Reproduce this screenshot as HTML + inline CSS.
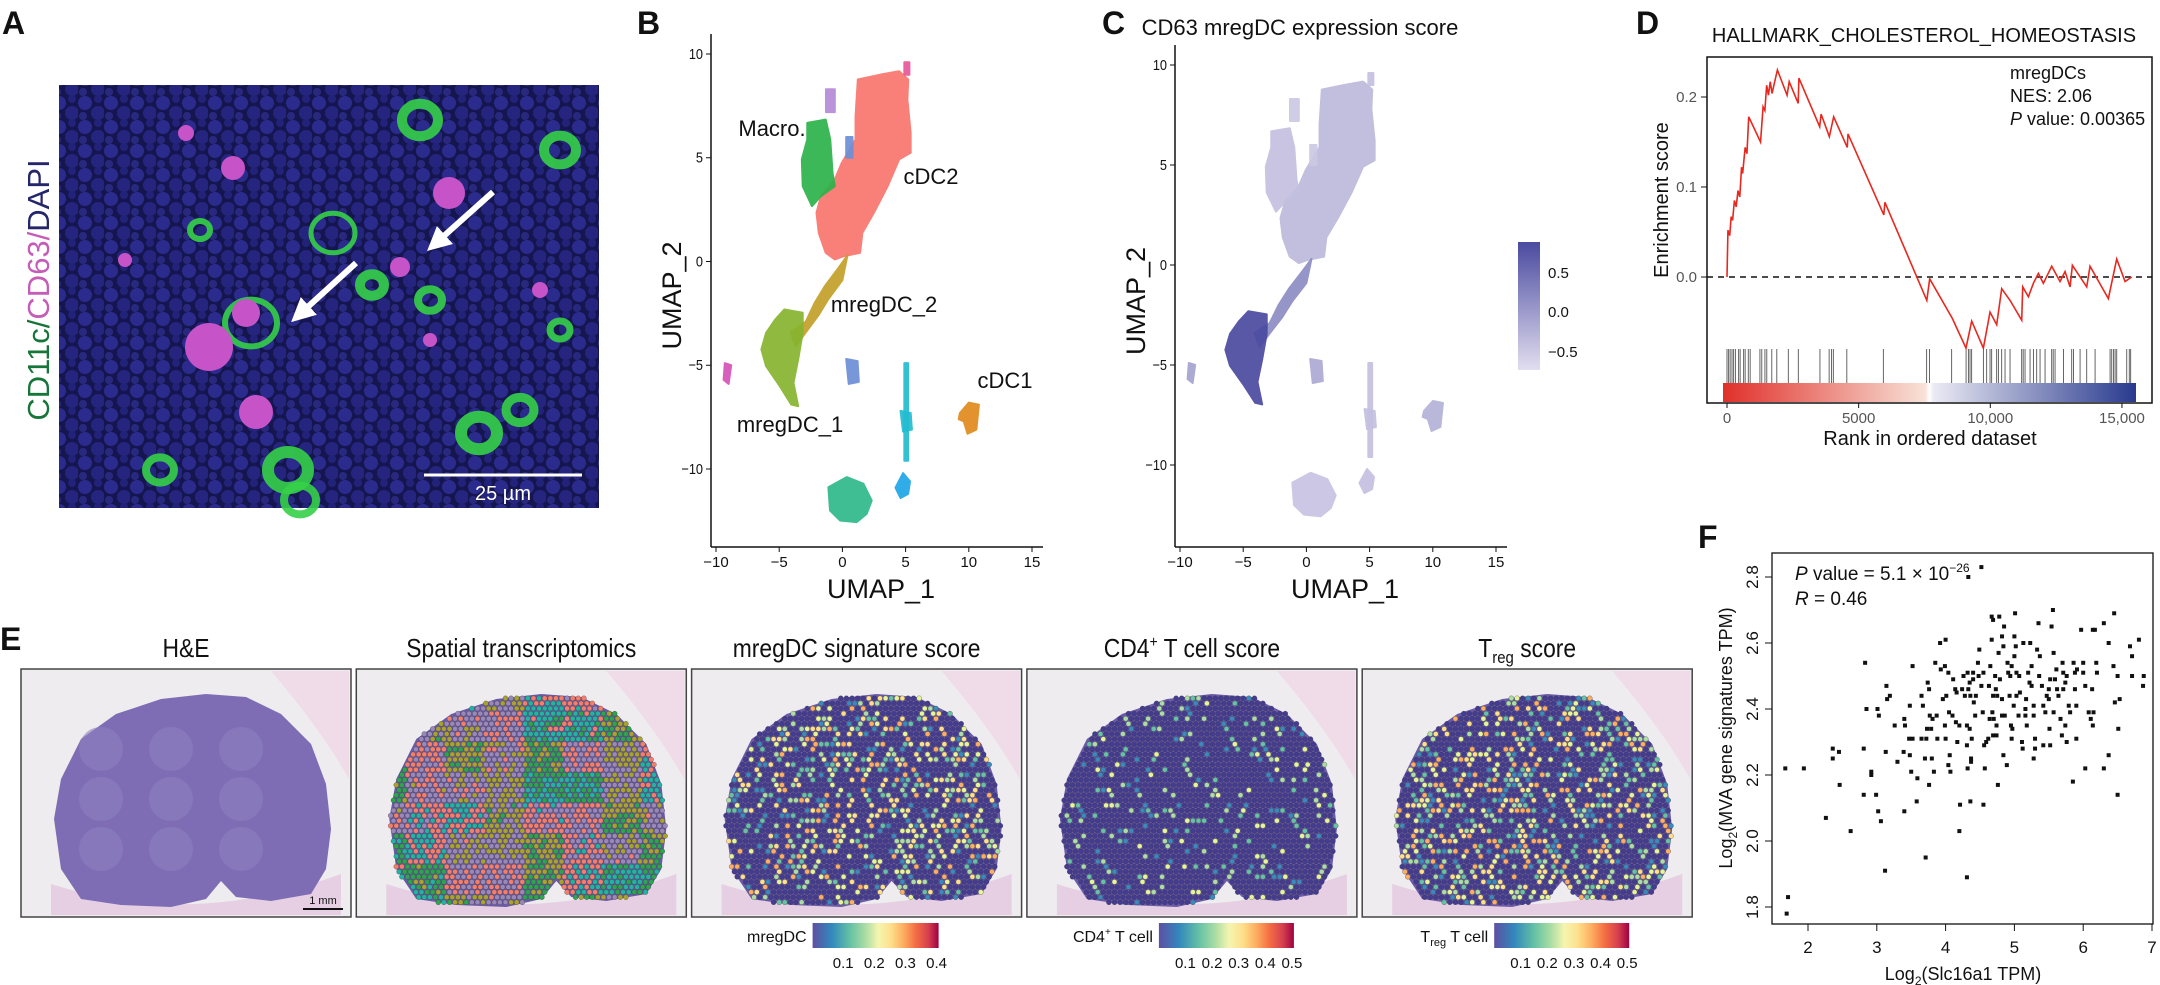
<!DOCTYPE html>
<html><head><meta charset="utf-8"><style>
html,body{margin:0;padding:0;background:#fff}
svg{display:block;font-family:"Liberation Sans",Arial,sans-serif}
</style></head><body>
<svg id="fig" width="2160" height="985" viewBox="0 0 2160 985" xmlns="http://www.w3.org/2000/svg">
<defs>
<pattern id="nuclei" width="26" height="24" patternUnits="userSpaceOnUse">
<rect width="26" height="24" fill="#15154f"/>
<circle cx="7" cy="7" r="7" fill="#2b2b8e"/><circle cx="20" cy="17" r="7" fill="#25257f"/><circle cx="20" cy="3" r="4" fill="#22227a"/><circle cx="5" cy="20" r="4" fill="#28287f"/>
</pattern>
<linearGradient id="gseaBar" x1="0" x2="1" y1="0" y2="0">
<stop offset="0" stop-color="#e0302a"/><stop offset="0.49" stop-color="#f8e2d8"/><stop offset="0.5" stop-color="#ffffff"/><stop offset="0.51" stop-color="#ebeaf4"/><stop offset="1" stop-color="#283a8e"/></linearGradient>
<linearGradient id="cScore" x1="0" x2="0" y1="1" y2="0"><stop offset="0" stop-color="#e2def0"/><stop offset="1" stop-color="#4a4aa0"/></linearGradient>
<linearGradient id="spectral" x1="0" x2="1" y1="0" y2="0">
<stop offset="0" stop-color="#5e4fa2"/><stop offset="0.15" stop-color="#3288bd"/><stop offset="0.3" stop-color="#66c2a5"/><stop offset="0.42" stop-color="#abdda4"/><stop offset="0.52" stop-color="#f5f5b0"/><stop offset="0.62" stop-color="#fee08b"/><stop offset="0.72" stop-color="#fdae61"/><stop offset="0.82" stop-color="#f46d43"/><stop offset="0.92" stop-color="#d53e4f"/><stop offset="1" stop-color="#9e0142"/></linearGradient>
<marker id="arrowHead" markerWidth="4" markerHeight="4" refX="2" refY="2" orient="auto"><path d="M0,0 L4,2 L0,4 z" fill="#fff"/></marker>
</defs>
</svg>
<script>
// ---------------- DATA ----------------
// Panel D : running enrichment score
const esRank=[0,36,104,158,213,281,349,417,485,553,594,689,757,825,1274,1370,1438,1506,1574,1642,1710,1914,2281,2363,2703,2731,3520,3574,3887,4051,4568,4595,5956,5997,7589,7698,8557,9077,9293,9736,9990,10243,10433,10750,11193,11231,11446,11636,11826,12016,12332,12649,12839,13029,13117,13662,13788,14484,14801,15118,15371];
const esValue=[0,0.052,0.046,0.067,0.063,0.085,0.078,0.096,0.089,0.122,0.115,0.144,0.137,0.178,0.150,0.189,0.185,0.213,0.202,0.217,0.204,0.230,0.202,0.217,0.193,0.221,0.167,0.181,0.156,0.178,0.144,0.159,0.069,0.083,-0.026,-0.002,-0.046,-0.079,-0.049,-0.079,-0.039,-0.053,-0.013,-0.026,-0.048,-0.011,-0.022,-0.007,0.004,-0.007,0.012,-0.005,0.006,-0.011,0.013,-0.011,0.012,-0.024,0.020,-0.005,0.000];
const hitRanks=[0,60,120,190,250,320,440,500,630,690,810,880,1250,1320,1440,1510,1700,1890,2330,2710,3530,3880,3970,4040,4550,5940,7580,7690,8530,9080,9170,9230,9290,9740,9860,9990,10050,10240,10310,10430,10560,10750,11190,11250,11320,11510,11640,11760,11890,12080,12330,12390,12460,12780,13090,13160,13410,13660,13980,14550,14610,14680,14740,14800,15180,15280,15330];
const esTicks=[0,0.1,0.2];
const rankTicks=[0,5000,10000,15000];
const rankTickLabels=["0","5000","10,000","15,000"];
// Panel F : scatter
const fX=[1.67,1.94,2.36,2.45,2.36,2.46,2.26,2.62,1.71,1.69,2.83,2.85,2.81,2.81,2.92,2.92,2.99,3.02,3.06,3.01,3.03,3.14,3.15,3.19,3.13,3.26,3.30,3.40,3.41,3.40,3.12,3.48,3.39,3.47,3.52,3.48,3.50,3.59,3.58,3.52,3.65,3.67,3.65,3.72,3.76,3.70,3.71,3.74,3.76,3.77,3.73,3.81,3.79,3.80,3.83,3.85,3.87,3.88,3.92,3.93,3.96,4.00,4.01,3.99,4.04,4.05,3.99,4.00,4.04,4.07,4.06,4.11,4.14,4.16,4.10,4.15,4.17,4.20,4.21,4.20,4.24,4.26,4.28,4.32,4.33,4.31,4.31,4.35,4.36,4.35,4.38,4.37,4.37,4.32,4.36,4.31,4.40,4.41,4.43,4.40,4.44,4.47,4.48,4.49,4.52,4.55,4.54,4.56,4.57,4.59,4.55,4.62,4.64,4.63,4.65,4.67,4.67,4.69,4.72,4.69,4.73,4.75,4.70,4.74,4.68,4.69,4.76,4.74,4.77,4.78,4.79,4.82,4.84,4.85,4.82,4.82,4.86,4.84,4.89,4.90,4.91,4.93,4.96,4.94,4.95,4.97,4.96,5.01,5.00,5.02,4.99,5.00,5.03,5.03,5.06,5.08,5.07,5.11,5.12,5.16,5.16,5.17,5.18,5.13,5.20,5.22,5.23,5.25,5.25,5.28,5.28,5.30,5.30,5.28,5.33,5.35,5.37,5.36,5.40,5.42,5.45,5.47,5.50,5.52,5.50,5.51,5.52,5.54,5.56,5.57,5.61,5.59,5.62,5.64,5.67,5.70,5.71,5.74,5.71,5.76,5.74,5.76,5.79,5.81,5.86,5.88,5.90,5.90,5.88,5.85,5.91,5.97,6.00,6.00,6.03,6.03,6.08,6.13,6.14,6.14,6.11,6.15,6.17,6.20,6.19,6.30,6.37,6.44,6.45,6.50,6.51,6.53,6.37,6.30,6.50,6.68,6.71,6.71,6.81,6.88,6.87,6.46,5.57,5.69,5.42,4.52,4.33];
const fY=[2.22,2.22,2.28,2.27,2.25,2.17,2.07,2.03,1.83,1.78,2.54,2.40,2.28,2.14,2.21,2.20,2.14,2.09,2.06,2.40,2.38,2.47,2.43,2.44,2.27,2.35,2.24,2.37,2.35,2.09,1.91,2.41,2.27,2.31,2.31,2.26,2.21,2.19,2.12,2.53,2.44,2.41,2.31,2.31,2.17,2.25,1.95,2.48,2.46,2.38,2.34,2.37,2.34,2.25,2.21,2.54,2.38,2.31,2.60,2.52,2.43,2.61,2.44,2.53,2.51,2.39,2.35,2.31,2.23,2.21,2.26,2.49,2.46,2.45,2.38,2.36,2.30,2.35,2.11,2.03,2.46,2.50,2.44,2.51,2.46,2.35,2.29,2.48,2.44,2.34,2.31,2.25,2.24,2.22,2.12,1.89,2.49,2.42,2.38,2.51,2.44,2.54,2.50,2.58,2.47,2.51,2.39,2.29,2.22,2.30,2.11,2.31,2.37,2.47,2.53,2.68,2.61,2.67,2.50,2.44,2.46,2.44,2.37,2.35,2.39,2.32,2.17,2.32,2.57,2.68,2.49,2.62,2.59,2.65,2.43,2.38,2.38,2.26,2.23,2.54,2.51,2.44,2.53,2.50,2.35,2.34,2.31,2.69,2.62,2.59,2.41,2.56,2.51,2.44,2.38,2.45,2.50,2.30,2.28,2.38,2.40,2.43,2.35,2.60,2.51,2.48,2.60,2.53,2.47,2.41,2.38,2.31,2.28,2.25,2.58,2.66,2.56,2.50,2.47,2.41,2.39,2.44,2.46,2.49,2.43,2.34,2.29,2.65,2.70,2.57,2.52,2.49,2.46,2.44,2.37,2.54,2.51,2.48,2.46,2.50,2.35,2.30,2.41,2.39,2.54,2.46,2.41,2.31,2.51,2.18,2.52,2.64,2.51,2.54,2.47,2.22,2.39,2.46,2.35,2.64,2.37,2.39,2.64,2.51,2.54,2.66,2.60,2.53,2.69,2.50,2.34,2.43,2.26,2.22,2.14,2.59,2.56,2.50,2.61,2.50,2.47,2.42,2.39,2.32,2.29,2.83,2.80];
const fXTicks=[2,3,4,5,6,7];
const fYTicks=[1.8,2.0,2.2,2.4,2.6,2.8];
// Panel B/C : UMAP cluster outlines (UMAP coordinates)
const clusterNames=["cDC2","Macro","Mono","DCsmall","mregDC_2","mregDC_1","Bottom","BlueBottom","CyanCol","CyanBlob","SmallBlue","PinkLeft","cDC1","PinkTop"];
const clusterShapes=[
[[1.22,8.77],[3.04,9.01],[4.49,9.17],[5.21,8.77],[5.14,7.81],[5.40,6.20],[5.40,5.24],[4.49,4.92],[3.58,3.63],[2.49,2.35],[1.58,1.38],[1.40,0.42],[0.13,0.26],[-0.60,0.10],[-1.32,0.42],[-1.87,1.38],[-2.05,2.35],[-1.69,3.15],[-0.60,3.95],[-0.05,4.75],[1.04,5.88],[1.04,7.00]],
[[-2.78,6.68],[-1.32,6.84],[-0.96,5.88],[-0.78,4.27],[-0.60,3.63],[-1.69,3.15],[-2.41,2.67],[-3.14,3.63],[-3.21,4.92],[-2.78,5.88]],
[[-1.3,8.3],[-0.6,8.3],[-0.6,7.2],[-1.3,7.2]],
[[0.3,6.0],[0.8,6.0],[0.8,5.0],[0.3,5.0]],
[[0.4,0.3],[0.0,-0.9],[-1.1,-1.8],[-1.9,-2.6],[-3.0,-3.5],[-3.7,-4.1],[-4.1,-3.4],[-2.9,-2.9],[-2.2,-2.0],[-1.4,-1.2],[-0.3,-0.3]],
[[-4.59,-2.31],[-3.14,-2.47],[-3.14,-3.44],[-3.50,-4.72],[-3.87,-5.85],[-3.50,-6.97],[-4.05,-6.89],[-4.95,-6.01],[-6.04,-5.04],[-6.41,-4.24],[-6.04,-3.44],[-5.32,-2.80]],
[[-1.11,-10.88],[0.34,-10.39],[1.66,-10.71],[2.32,-11.52],[1.92,-12.16],[1.13,-12.56],[-0.19,-12.48],[-0.98,-12.00]],
[[4.2,-10.9],[4.8,-10.2],[5.35,-10.6],[5.2,-11.2],[4.6,-11.4]],
[[4.9,-4.9],[5.2,-4.9],[5.2,-9.6],[4.9,-9.6]],
[[4.6,-7.2],[5.4,-7.3],[5.5,-8.1],[4.8,-8.2]],
[[0.3,-4.7],[1.2,-4.8],[1.3,-5.8],[0.5,-5.9]],
[[-9.3,-4.9],[-8.8,-5.0],[-9.0,-5.9],[-9.4,-5.7]],
[[9.3,-7.3],[10.0,-6.8],[10.8,-6.9],[10.6,-8.1],[9.9,-8.3],[9.6,-7.7],[9.2,-7.6]],
[[4.9,9.6],[5.3,9.6],[5.3,9.0],[4.9,9.0]]];
const clusterColorsB=["#f8766d","#2cb34a","#b58ad8","#6c8fd6","#c4a02a","#86b52f","#2fb88a","#1fa6e8","#22bcd0","#22bcd0","#6c8fd6","#d652b8","#e08a1c","#e8559a"];
const clusterScoreC=[0.25,0.2,0.15,0.15,0.55,1.0,0.18,0.2,0.2,0.2,0.35,0.4,0.3,0.2];
const umapTicksX=[-10,-5,0,5,10,15];
const umapTicksY=[-10,-5,0,5,10];

// ---------------- HELPERS ----------------
const NS="http://www.w3.org/2000/svg";
const svg=document.getElementById('fig');
function mk(tag,attrs,parent,text){const e=document.createElementNS(NS,tag);for(const k in attrs)e.setAttribute(k,attrs[k]);if(text!==undefined)e.textContent=text;(parent||svg).appendChild(e);return e;}
function grp(name){const g=mk('g',{});return g;}

// ---------------- PANEL LETTERS ----------------
const letters=[["A",2,34],["B",637,34],["C",1102,34],["D",1636,34],["E",0,650],["F",1698,548]];
for(const L of letters){const t=mk('text',{x:L[1],y:L[2],'font-size':32,'font-weight':'bold',fill:'#111'},svg,L[0]);

}

// ---------------- PANEL A ----------------
const gA=grp('panel-a-micrograph');
mk('rect',{x:59,y:85,width:540,height:423,fill:'url(#nuclei)'},gA);
const greens=[[333,233,22,5],[251,323,26,6],[372,285,12,10],[479,433,18,12],[288,470,20,12],[430,300,12,8],[560,150,16,10],[520,410,14,9],[160,470,14,8],[420,120,18,10],[300,500,16,8],[560,330,10,7],[200,230,10,6]];
for(const g of greens){mk('ellipse',{cx:g[0],cy:g[1],rx:g[2],ry:g[2]*0.9,fill:'none',stroke:'#35d048','stroke-width':g[3],opacity:0.9},gA);}
const mags=[[209,347,24],[449,193,16],[256,412,17],[246,313,14],[400,267,10],[233,168,12],[186,133,8],[125,260,7],[540,290,8],[430,340,7]];
for(const m of mags){mk('circle',{cx:m[0],cy:m[1],r:m[2],fill:'#c653c8'},gA);}
mk('line',{x1:493,y1:192,x2:436,y2:243,stroke:'#fff','stroke-width':6,'marker-end':'url(#arrowHead)'},gA);
mk('line',{x1:356,y1:263,x2:300,y2:314,stroke:'#fff','stroke-width':6,'marker-end':'url(#arrowHead)'},gA);
mk('line',{x1:424,y1:475,x2:582,y2:475,stroke:'#fff','stroke-width':3},gA);
const sb=mk('text',{x:503,y:500,'font-size':20,fill:'#fff','text-anchor':'middle'},gA,'25 µm');


const aLab=mk('text',{transform:'translate(49,290) rotate(-90)','font-size':31,'text-anchor':'middle'},svg);


mk('tspan',{fill:'#16763a'},aLab,'CD11c/');mk('tspan',{fill:'#c45cb8'},aLab,'CD63/');mk('tspan',{fill:'#25256a'},aLab,'DAPI');

// ---------------- UMAP PANELS ----------------
function umapPanel(name,ax,ayTop,ayBot,colorFn,labels){
  const g=grp(name);
  const xS=u=>ax+5+(u+10)*12.64;
  const yS=v=>(ayTop+ayBot)/2-v*(ayBot-ayTop)/20;
  const axisY=547;
  mk('line',{x1:ax,y1:ayTop-20,x2:ax,y2:axisY,stroke:'#111','stroke-width':1.5},g);
  mk('line',{x1:ax,y1:axisY,x2:ax+332,y2:axisY,stroke:'#111','stroke-width':1.5},g);
  for(const t of umapTicksY){mk('line',{x1:ax-5,y1:yS(t),x2:ax,y2:yS(t),stroke:'#111'},g);
    const tl=mk('text',{x:ax-8,y:yS(t)+5,'font-size':15,'text-anchor':'end',fill:'#111',transform:`translate(${(ax-8)*0.15},0) scale(0.85,1)`},g,t<0?'\u2212'+(-t):String(t));
    
    }
  for(const t of umapTicksX){mk('line',{x1:xS(t),y1:axisY,x2:xS(t),y2:axisY+5,stroke:'#111'},g);
    const tl=mk('text',{x:xS(t),y:axisY+20,'font-size':15,'text-anchor':'middle',fill:'#111'},g,t<0?'\u2212'+(-t):String(t));
    
    }
  clusterShapes.forEach((poly,i)=>{
    const p=mk('polygon',{points:poly.map(q=>xS(q[0])+','+yS(q[1])).join(' '),fill:colorFn(i),stroke:colorFn(i),'stroke-width':2,'stroke-linejoin':'round',opacity:0.92},g);
    
    });
  const xl=mk('text',{x:ax+170,y:598,'font-size':27,'text-anchor':'middle',fill:'#111'},g,'UMAP_1');
  
  
  const yl=mk('text',{transform:`translate(${ax-30},${(ayTop+axisY)/2-5}) rotate(-90)`,'font-size':27,'text-anchor':'middle',fill:'#111'},g,'UMAP_2');
  
  
  for(const l of labels){const t=mk('text',{x:l[1],y:l[2],'font-size':22,'text-anchor':'middle',fill:'#111'},g,l[0]);
    
    }
  return {g,xS,yS};
}
umapPanel('panel-b-umap-clusters',711,54,469,i=>clusterColorsB[i],[["Macro.",772,136],["cDC2",931,184],["mregDC_2",884,312],["mregDC_1",790,432],["cDC1",1005,388]]);
function scoreColor(s){const a=[226,222,240],b=[74,74,160];return `rgb(${a.map((v,k)=>Math.round(v+(b[k]-v)*s)).join(',')})`;}
umapPanel('panel-c-umap-score',1175,65,465,i=>scoreColor(clusterScoreC[i]),[]);
const cT=mk('text',{x:1300,y:35,'font-size':22,'text-anchor':'middle',fill:'#111'},svg,'CD63 mregDC expression score');


const cb=mk('rect',{x:1518,y:242,width:22,height:128,fill:'url(#cScore)'});


[["0.5",273],["0.0",312],["\u22120.5",352]].forEach(p=>{const t=mk('text',{x:1548,y:p[1]+5,'font-size':15,fill:'#111'},svg,p[0]);

});

// ---------------- PANEL D ----------------
const gD=grp('panel-d-gsea');
const dx=r=>1727+r*0.02633, dy=v=>277-v*900;
mk('rect',{x:1707,y:57,width:445,height:346,fill:'none',stroke:'#111','stroke-width':1.5},gD);
mk('line',{x1:1707,y1:dy(0),x2:2152,y2:dy(0),stroke:'#111','stroke-width':1.5,'stroke-dasharray':'6,5'},gD);
for(const r of hitRanks){mk('line',{x1:dx(r),y1:349,x2:dx(r),y2:383,stroke:'#666','stroke-width':1},gD);}
const gb=mk('rect',{x:1723,y:383,width:413,height:19,fill:'url(#gseaBar)'},gD);


const esl=mk('polyline',{points:esRank.map((r,i)=>dx(r)+','+dy(esValue[i])).join(' '),fill:'none',stroke:'#e8281e','stroke-width':1.6},gD);


for(const t of esTicks){mk('line',{x1:1701,y1:dy(t),x2:1707,y2:dy(t),stroke:'#111'},gD);
  const tl=mk('text',{x:1697,y:dy(t)+5,'font-size':15,'text-anchor':'end',fill:'#555'},gD,t.toFixed(1));
  
  }
rankTicks.forEach((t,i)=>{mk('line',{x1:dx(t),y1:403,x2:dx(t),y2:408,stroke:'#111'},gD);
  const tl=mk('text',{x:dx(t),y:423,'font-size':15,'text-anchor':'middle',fill:'#555'},gD,rankTickLabels[i]);
  
  });
const dT=mk('text',{x:1924,y:42,'font-size':20,'text-anchor':'middle',fill:'#111'},gD,'HALLMARK_CHOLESTEROL_HOMEOSTASIS');


const dX=mk('text',{x:1930,y:445,'font-size':20,'text-anchor':'middle',fill:'#111'},gD,'Rank in ordered dataset');


const dY=mk('text',{transform:'translate(1668,200) rotate(-90)','font-size':20,'text-anchor':'middle',fill:'#111'},gD,'Enrichment score');


const dA=mk('text',{x:2010,y:79,'font-size':18,fill:'#111'},gD);


mk('tspan',{x:2010,y:79},dA,'mregDCs');mk('tspan',{x:2010,y:102},dA,'NES: 2.06');
mk('tspan',{x:2010,y:125,'font-style':'italic'},dA,'P');mk('tspan',{},dA,' value: 0.00365');

// ---------------- PANEL F ----------------
const gF=grp('panel-f-scatter');
const fx=v=>1808+(v-2)*68.8, fy=v=>577+(2.8-v)*330;
mk('rect',{x:1772,y:553,width:381,height:371,fill:'none',stroke:'#111','stroke-width':1.3},gF);
fX.forEach((v,i)=>{const p=mk('rect',{x:fx(v)-2,y:fy(fY[i])-2,width:4,height:4,fill:'#111'},gF);
  
  });
for(const t of fXTicks){mk('line',{x1:fx(t),y1:924,x2:fx(t),y2:931,stroke:'#111'},gF);
  const tl=mk('text',{x:fx(t),y:953,'font-size':17,'text-anchor':'middle',fill:'#111'},gF,String(t));
  
  }
for(const t of fYTicks){mk('line',{x1:1765,y1:fy(t),x2:1772,y2:fy(t),stroke:'#111'},gF);
  const tl=mk('text',{transform:`translate(1758,${fy(t)}) rotate(-90)`,'font-size':17,'text-anchor':'middle',fill:'#111'},gF,t.toFixed(1));
  
  }
const fXl=mk('text',{x:1963,y:980,'font-size':18,'text-anchor':'middle',fill:'#111'},gF);


mk('tspan',{},fXl,'Log');mk('tspan',{'font-size':12,dy:5},fXl,'2');mk('tspan',{dy:-5},fXl,'(Slc16a1 TPM)');
const fYl=mk('text',{transform:'translate(1732,738) rotate(-90)','font-size':18,'text-anchor':'middle',fill:'#111'},gF);


mk('tspan',{},fYl,'Log');mk('tspan',{'font-size':12,dy:5},fYl,'2');mk('tspan',{dy:-5},fYl,'(MVA gene signatures TPM)');
const fA=mk('text',{x:1795,y:580,'font-size':19,fill:'#111'},gF);


mk('tspan',{'font-style':'italic'},fA,'P');mk('tspan',{},fA,' value = 5.1 \u00d7 10');mk('tspan',{'font-size':12,dy:-8},fA,'\u221226');
const fR=mk('text',{x:1795,y:605,'font-size':19,fill:'#111'},gF);


mk('tspan',{'font-style':'italic'},fR,'R');mk('tspan',{},fR,' = 0.46');

// ---------------- PANEL E ----------------
const tissue=[[40,110],[60,70],[95,45],[140,30],[185,25],[225,28],[260,45],[290,75],[305,115],[310,160],[305,200],[290,225],[250,232],[215,228],[200,212],[185,230],[150,238],[100,236],[60,230],[40,200],[33,150]];
function inPoly(x,y,p){let c=false;for(let i=0,j=p.length-1;i<p.length;j=i++){if(((p[i][1]>y)!=(p[j][1]>y))&&(x<(p[j][0]-p[i][0])*(y-p[i][1])/(p[j][1]-p[i][1])+p[i][0]))c=!c;}return c;}
function hash(a,b,s){let h=(a*374761393+b*668265263+s*2147483647)|0;h=(h^(h>>>13))*1274126177|0;return ((h^(h>>>16))>>>0)/4294967296;}
const stColors=["#f47e69","#20b5a0","#2ca64c","#a9a22c","#9a89b8"];
const spec=["#3a8bbd","#66c2a5","#abdda4","#e6f598","#fee08b","#fdae61","#f46d43","#d53e4f"];
const eTitles=["H&E","Spatial transcriptomics","mregDC signature score","CD4+ T cell score","Treg score"];
const eFrac=[0,1,0.38,0.13,0.4];
for(let i=0;i<5;i++){
  const bx=21+i*335.3, by=669;
  const g=grp('spatial-panel-'+(i+1));
  mk('rect',{x:bx,y:by,width:330,height:248,fill:'#eeecee',stroke:'#444','stroke-width':1.5},g);
  mk('path',{d:`M${bx+250},${by+2} Q${bx+300},${by+60} ${bx+328},${by+110} L${bx+328},${by+2} Z`,fill:'#f0dbe8'},g);
  mk('path',{d:`M${bx+30},${by+215} Q${bx+170},${by+260} ${bx+320},${by+205} L${bx+320},${by+246} L${bx+30},${by+246} Z`,fill:'#e6cfe2'},g);
  mk('polygon',{points:tissue.map(q=>(bx+q[0])+','+(by+q[1])).join(' '),fill:i==0?'#7e6db4':'#6a5aa8'},g);
  if(i==0){for(let k=0;k<9;k++)mk('circle',{cx:bx+80+(k%3)*70,cy:by+80+Math.floor(k/3)*50,r:22,fill:'#8d7fc0',opacity:0.6},g);
    mk('line',{x1:bx+282,y1:by+240,x2:bx+322,y2:by+240,stroke:'#111','stroke-width':2},g);
    mk('text',{x:bx+302,y:by+235,'font-size':11,'text-anchor':'middle',fill:'#111'},g,'1 mm');}
  else{
    for(let r=0;r<44;r++)for(let c=0;c<55;c++){
      const x=bx+12+c*5.6+(r%2)*2.8, y=by+14+r*5.1;
      if(!inPoly(x-bx,y-by,tissue))continue;
      let col;
      if(i==1){const z=Math.floor(c/7)+Math.floor(r/6)*3;col=stColors[Math.floor(hash(z,Math.floor(r/6),1)*5+hash(c,r,2)*1.6)%5];}
      else{col=hash(c,r,i)<eFrac[i]?spec[Math.floor(hash(r,c,i+7)*(i==3?4:6))]:'#433c92';}
      mk('circle',{cx:x,cy:y,r:2.5,fill:col,stroke:'#333','stroke-width':0.3},g);}
  }
  const tt=mk('text',{x:(bx+165)/0.88,y:657,'font-size':26,'text-anchor':'middle',fill:'#111',transform:'scale(0.88,1)'},svg);
  
  
  if(i==3){mk('tspan',{},tt,'CD4');mk('tspan',{'font-size':16,dy:-10},tt,'+');mk('tspan',{dy:10},tt,' T cell score');}
  else if(i==4){mk('tspan',{},tt,'T');mk('tspan',{'font-size':17,dy:6},tt,'reg');mk('tspan',{dy:-6},tt,' score');}
  else tt.textContent=eTitles[i];
}
const cbs=[[2,"mregDC",["0.1","0.2","0.3","0.4"],126],[3,"CD4+ T cell",["0.1","0.2","0.3","0.4","0.5"],135],[4,"Treg T cell",["0.1","0.2","0.3","0.4","0.5"],135]];
for(const c of cbs){
  const bx=21+c[0]*335.3, x0=bx+(c[0]==2?121:132);
  const r=mk('rect',{x:x0,y:923,width:c[3],height:25,fill:'url(#spectral)'});
  
  
  const lab=mk('text',{x:x0-6,y:942,'font-size':16,'text-anchor':'end',fill:'#111'});
  
  
  if(c[0]==3){mk('tspan',{},lab,'CD4');mk('tspan',{'font-size':10,dy:-7},lab,'+');mk('tspan',{dy:7},lab,' T cell');}
  else if(c[0]==4){mk('tspan',{},lab,'T');mk('tspan',{'font-size':11,dy:4},lab,'reg');mk('tspan',{dy:-4},lab,' T cell');}
  else lab.textContent=c[1];
  const n=c[2].length, step=(c[3]-4)/(n-0.08);
  c[2].forEach((t,k)=>{const tx=x0+c[3]-2-(n-1-k)*step;
    const tl=mk('text',{x:tx,y:968,'font-size':15,'text-anchor':'middle',fill:'#111'},svg,t);
    
    });
}
</script>
</body></html>
